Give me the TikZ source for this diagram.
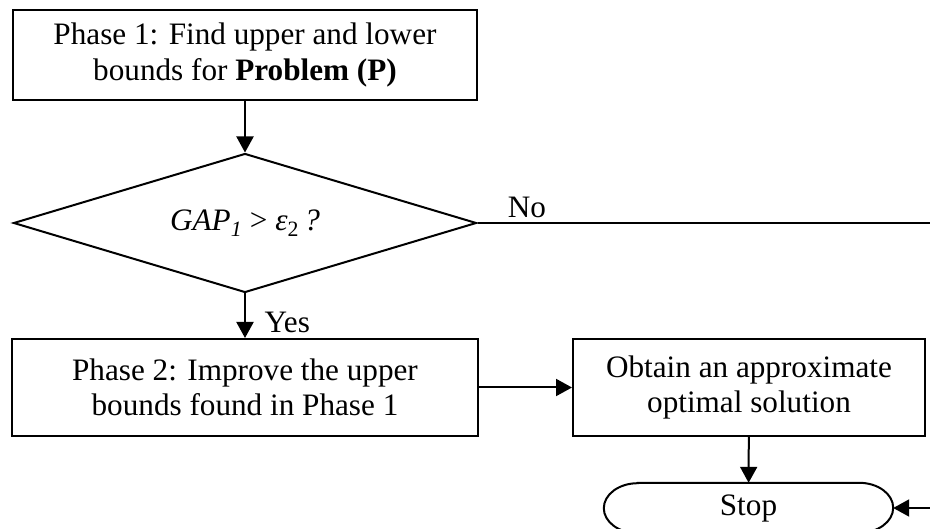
\documentclass[tikz,border=0pt]{standalone}
\usepackage{fontspec}
\setmainfont{Liberation Serif}
\usetikzlibrary{shapes.geometric,arrows.meta}
\begin{document}
\begin{tikzpicture}[x=1pt,y=-1pt,
  every node/.style={font=\fontsize{31.2}{35.5}\selectfont},
  procbox/.style={draw,line width=2pt,rectangle,align=center,inner sep=0pt},
  decbox/.style={draw,line width=2pt,diamond,shape aspect=3.33,inner sep=0pt,align=center},
  conn/.style={line width=2pt,-{Triangle[length=16pt,width=17pt]}},
  plainline/.style={line width=2pt}]
\useasboundingbox (0,0) rectangle (930,529);
\clip (0,0) rectangle (930,529);
\node[procbox,minimum width=464pt,minimum height=90pt] (p1) at (245,55)
  {Phase 1: Find upper and lower\\bounds for \textbf{Problem (P)}};
\node[decbox,minimum width=463pt,minimum height=139pt] (gap) at (245,223)
  {\textit{GAP}\textsubscript{\textit{1}} > \textit{ε}\textsubscript{2}\,\textit{?}};
\node[procbox,minimum width=466pt,minimum height=97pt] (p2) at (245,387.5)
  {Phase 2: Improve the upper\\bounds found in Phase 1};
\node[procbox,minimum width=352pt,minimum height=97pt] (ob) at (749,387.5)
  {Obtain an approximate\\optimal solution};
\node[minimum width=289pt,minimum height=50pt,inner sep=0pt] (stop) at (748.5,508) {Stop};
\draw[plainline] ([xshift=34pt]stop.north west) -- ([xshift=-34pt]stop.north east)
  arc[start angle=90,end angle=-90,x radius=34pt,y radius=25pt]
  -- ([xshift=34pt]stop.south west)
  arc[start angle=270,end angle=90,x radius=34pt,y radius=25pt] -- cycle;
\coordinate (rt) at (945,223);
\node (no) at (527,207) {No};
\node[anchor=west] (yes) at (261,322) {Yes};
\draw[conn] (p1) -- (gap);
\draw[conn] (gap) -- (p2);
\draw[conn] (p2) -- (ob);
\draw[conn] (ob) -- (stop);
\draw[conn] (gap.east) -- (rt) |- (stop.east);
\end{tikzpicture}
\end{document}
